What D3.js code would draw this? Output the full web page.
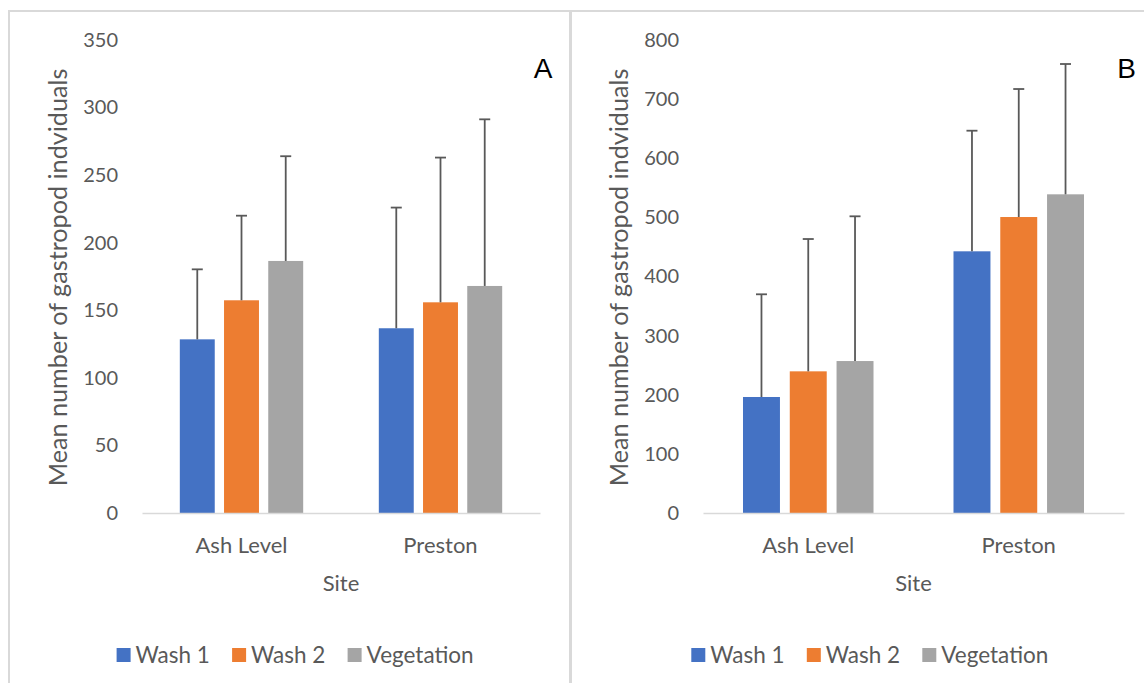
<!DOCTYPE html>
<html>
<head>
<meta charset="utf-8">
<script src="https://cdn.jsdelivr.net/npm/d3@7"></script>
<style>
  html, body { margin: 0; padding: 0; background: #ffffff; }
  svg { display: block; }
</style>
</head>
<body>
<svg id="chart" width="1144" height="683"></svg>
<script>
// ---------------- DATA ----------------
const sites = ["Ash Level", "Preston"];
const seriesNames = ["Wash 1", "Wash 2", "Vegetation"];

// Panel A (means and upper error lengths)
const aWash1 = [128.5, 136.7];
const aWash2 = [157.4, 155.9];
const aVegetation = [186.5, 168.0];
const aWash1Err = [51.8, 89.3];
const aWash2Err = [62.6, 107.1];
const aVegetationErr = [77.5, 123.3];
const aTicks = [0, 50, 100, 150, 200, 250, 300, 350];

// Panel B
const bWash1 = [196.2, 442.6];
const bWash2 = [239.6, 500.6];
const bVegetation = [257.0, 539.0];
const bWash1Err = [173.7, 204.0];
const bWash2Err = [223.8, 216.5];
const bVegetationErr = [244.8, 220.4];
const bTicks = [0, 100, 200, 300, 400, 500, 600, 700, 800];

const yTitle = "Mean number of gastropod indviduals";
const xTitle = "Site";
const colors = ["#4472C4", "#ED7D31", "#A5A5A5"];

// ---------------- DRAW ----------------
const svg = d3.select("#chart");
const FONT = "Lato, 'Open Sans', sans-serif";
const TXT = "#595959";

// outer frame lines
const frame = svg.append("g").attr("stroke", "#d9d9d9").attr("fill", "none");
frame.append("line").attr("x1", 8).attr("x2", 1144).attr("y1", 11).attr("y2", 11).attr("stroke-width", 2);
frame.append("line").attr("x1", 9).attr("x2", 9).attr("y1", 10).attr("y2", 683).attr("stroke-width", 2);
frame.append("line").attr("x1", 570.5).attr("x2", 570.5).attr("y1", 10).attr("y2", 683).attr("stroke-width", 3);

function panel(opts) {
  const g = svg.append("g");
  const means = [opts.w1, opts.w2, opts.veg];
  const errs = [opts.e1, opts.e2, opts.eveg];
  const rows = [];
  sites.forEach((s, i) => {
    seriesNames.forEach((n, j) => {
      rows.push({site: s, series: n, j: j, v: means[j][i], e: errs[j][i]});
    });
  });

  const y = d3.scaleLinear().domain([0, opts.max]).range([opts.y0, opts.y1]);
  const x0 = d3.scaleBand().domain(sites).range([opts.x0, opts.x1]).padding(0);
  const gw = x0.bandwidth() * 0.62;
  const x1 = d3.scaleBand().domain(seriesNames)
    .range([(x0.bandwidth() - gw) / 2, (x0.bandwidth() + gw) / 2])
    .paddingInner(0.21).paddingOuter(0);

  // y axis labels
  const ya = g.append("g").attr("transform", `translate(${opts.x0},0)`)
    .call(d3.axisLeft(y).tickValues(opts.ticks).tickSize(0).tickPadding(24));
  ya.select(".domain").remove();
  ya.selectAll("text").attr("font-family", FONT).attr("font-size", 20).attr("fill", TXT);

  // bars
  g.append("g").selectAll("rect").data(rows).join("rect")
    .attr("x", d => x0(d.site) + x1(d.series))
    .attr("y", d => y(d.v))
    .attr("width", x1.bandwidth())
    .attr("height", d => y(0) - y(d.v))
    .attr("fill", d => colors[d.j]);

  // error bars (positive only)
  const eb = g.append("g").attr("stroke", "#595959").attr("stroke-width", 1.8);
  eb.selectAll("line.v").data(rows).join("line").attr("class", "v")
    .attr("x1", d => x0(d.site) + x1(d.series) + x1.bandwidth() / 2)
    .attr("x2", d => x0(d.site) + x1(d.series) + x1.bandwidth() / 2)
    .attr("y1", d => y(d.v))
    .attr("y2", d => y(d.v + d.e));
  eb.selectAll("line.c").data(rows).join("line").attr("class", "c")
    .attr("x1", d => x0(d.site) + x1(d.series) + x1.bandwidth() / 2 - 5.5)
    .attr("x2", d => x0(d.site) + x1(d.series) + x1.bandwidth() / 2 + 5.5)
    .attr("y1", d => y(d.v + d.e))
    .attr("y2", d => y(d.v + d.e));

  // x axis
  const xa = g.append("g").attr("transform", `translate(0,${opts.y0})`)
    .call(d3.axisBottom(x0).tickSize(0).tickSizeOuter(0));
  xa.select(".domain").attr("stroke", "#d9d9d9").attr("stroke-width", 1.5);
  xa.selectAll("text").attr("font-family", FONT).attr("font-size", 22).attr("fill", TXT)
    .attr("y", 40).attr("dy", 0);

  // axis titles
  g.append("text").attr("x", (opts.x0 + opts.x1) / 2).attr("y", 591)
    .attr("text-anchor", "middle").attr("font-family", FONT).attr("font-size", 22)
    .attr("fill", TXT).text(xTitle);
  g.append("text")
    .attr("transform", `translate(${opts.x0 - 75},277.5) rotate(-90)`)
    .attr("text-anchor", "middle").attr("font-family", FONT).attr("font-size", 25.2)
    .attr("fill", TXT).text(yTitle);

  // panel letter
  g.append("text").attr("x", opts.letterX).attr("y", 78)
    .attr("text-anchor", "middle").attr("font-family", "'Liberation Sans', Arial, sans-serif")
    .attr("font-size", 28).attr("fill", "#000").text(opts.letter);

  // legend
  const lg = g.append("g");
  seriesNames.forEach((n, j) => {
    const lx = opts.legendX + j * 115.5;
    lg.append("rect").attr("x", lx).attr("y", 648).attr("width", 14).attr("height", 14).attr("fill", colors[j]);
    lg.append("text").attr("x", lx + 19).attr("y", 663)
      .attr("font-family", FONT).attr("font-size", 22.5).attr("fill", TXT).text(n);
  });
}

panel({w1: aWash1, w2: aWash2, veg: aVegetation, e1: aWash1Err, e2: aWash2Err, eveg: aVegetationErr,
  max: 350, ticks: aTicks, x0: 142, x1: 540, y0: 513, y1: 40, letter: "A", letterX: 543, legendX: 116.6});
panel({w1: bWash1, w2: bWash2, veg: bVegetation, e1: bWash1Err, e2: bWash2Err, eveg: bVegetationErr,
  max: 800, ticks: bTicks, x0: 703, x1: 1124, y0: 513, y1: 40, letter: "B", letterX: 1126.5, legendX: 691.3});
</script>
</body>
</html>
